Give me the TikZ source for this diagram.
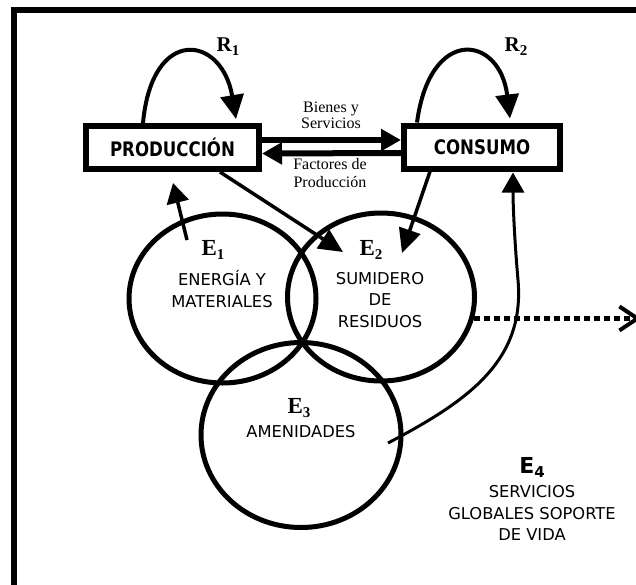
\documentclass[tikz,border=0pt]{standalone}
\usepackage{fontspec}
\usepackage{graphicx}
\setmainfont{Liberation Serif}
\setsansfont{DejaVu Sans}
\usetikzlibrary{arrows.meta,shapes.geometric}

% bold serif symbol with a lowered, smaller index
\newcommand\symlab[3]{{\fontsize{#3}{#3}\selectfont\bfseries #1\raisebox{-4pt}{\fontsize{15}{15}\selectfont #2}}}
\newcommand\boxtxt[1]{\scalebox{0.83}[1]{#1}}

\begin{document}
\begin{tikzpicture}[x=1pt,y=-1pt,
  sector/.style={draw,line width=6pt,minimum height=43pt,inner sep=0pt,
    font=\sffamily\bfseries\fontsize{20}{20}\selectfont},
  system/.style={draw,ellipse,line width=5pt,inner sep=0pt},
  lbl/.style={font=\sffamily\fontsize{16.3}{21.5}\selectfont,align=center,inner sep=0pt},
  sym/.style={inner sep=0pt},
  flowlbl/.style={font=\fontsize{16}{16}\selectfont,align=center,inner sep=0pt},
  loopar/.style={line width=4pt,-{Triangle[length=24pt,width=23pt]}},
  flowar/.style={line width=6pt,-{Triangle[length=20pt,width=21pt]}},
  bigar/.style={line width=3.5pt,-{Triangle[length=24pt,width=22pt]}},
  thinar/.style={line width=3pt,-{Triangle[length=20pt,width=22pt]}},
  outar/.style={line width=4.5pt,dash pattern=on 6pt off 4pt,
    -{Straight Barb[length=18pt,width=24pt,line width=4pt]}}]

\useasboundingbox (0,0) rectangle (636,584);

% outer frame
\draw[line width=6pt] (700,10) -- (14,10) -- (14,700);

% economic sectors
\node[sector,minimum width=173pt] (prod) at (172.5,147.5) {\boxtxt{PRODUCCIÓN}};
\node[sector,minimum width=156pt] (cons) at (482,147) {\boxtxt{CONSUMO}};

% environmental functions
\node[system,minimum width=187pt,minimum height=169pt] (e1) at (222.5,298.5) {};
\node[system,minimum width=187pt,minimum height=168pt] (e2) at (381,297) {};
\node[system,minimum width=200pt,minimum height=185pt] (e3) at (301,435) {};

% recycling loops
\node[sym] (r1) at (228,47) {\symlab{R}{1}{21}};
\node[sym] (r2) at (516,47) {\symlab{R}{2}{21}};
\draw[loopar] ([xshift=-29.5pt]prod.north) .. controls (152,25) and (222,35) .. ([xshift=63.5pt,yshift=4pt]prod.north);
\draw[loopar] ([xshift=-65pt]cons.north) .. controls (430,25) and (500,35) .. ([xshift=28pt,yshift=4pt]cons.north);

% flows between sectors
\draw[flowar] ([yshift=7.5pt]prod.east) -- ([yshift=7pt]cons.west);
\draw[flowar] ([yshift=-6pt]cons.west) -- ([yshift=-6pt]prod.east);
\node[flowlbl] (bienes) at (331,115) {Bienes y\\Servicios};
\node[flowlbl] (factores) at (330,173.5) {Factores de\\[2pt]Producción};

% labels inside the functions
\node[sym] (e1lab) at (213,250) {\symlab{E}{1}{23}};
\node[lbl] (e1txt) at (222,289) {ENERGÍA Y\\MATERIALES};
\node[sym] (e2lab) at (371,250) {\symlab{E}{2}{23}};
\node[lbl] (e2txt) at (380,300) {SUMIDERO\\DE\\RESIDUOS};
\node[sym] (e3lab) at (299,408) {\symlab{E}{3}{23}};
\node[lbl] (e3txt) at (301,432) {AMENIDADES};
\node[lbl,font=\sffamily\bfseries\fontsize{22}{22}\selectfont] (e4lab) at (532,467)
  {E\raisebox{-4pt}{\fontsize{15}{15}\selectfont 4}};
\node[lbl] (e4txt) at (532,513) {SERVICIOS\\GLOBALES SOPORTE\\DE VIDA};

% flow end points
\coordinate (wasteA) at (343,252);
\coordinate (wasteB) at (402,253);
\coordinate (resSrc) at (187,240);
\coordinate (resDst) at (173,183);
\coordinate (amenSrc) at (388,443);
\coordinate (outEnd) at (641,0);

\draw[bigar] ([xshift=47.5pt]prod.south) -- (wasteA);
\draw[bigar] ([xshift=-52pt]cons.south) -- (wasteB);
\draw[bigar,-{Triangle[length=20pt,width=22pt]}] (resSrc) -- (resDst);
\draw[thinar] (amenSrc) .. controls (470,400) and (525,360) .. (518,280)
  .. controls (514.5,240) and (513,205) .. ([xshift=31pt,yshift=-1pt]cons.south);

% flow leaving the system
\draw[outar] (e2.-13.6) -- (e2.-13.6 -| outEnd);
\end{tikzpicture}
\end{document}
